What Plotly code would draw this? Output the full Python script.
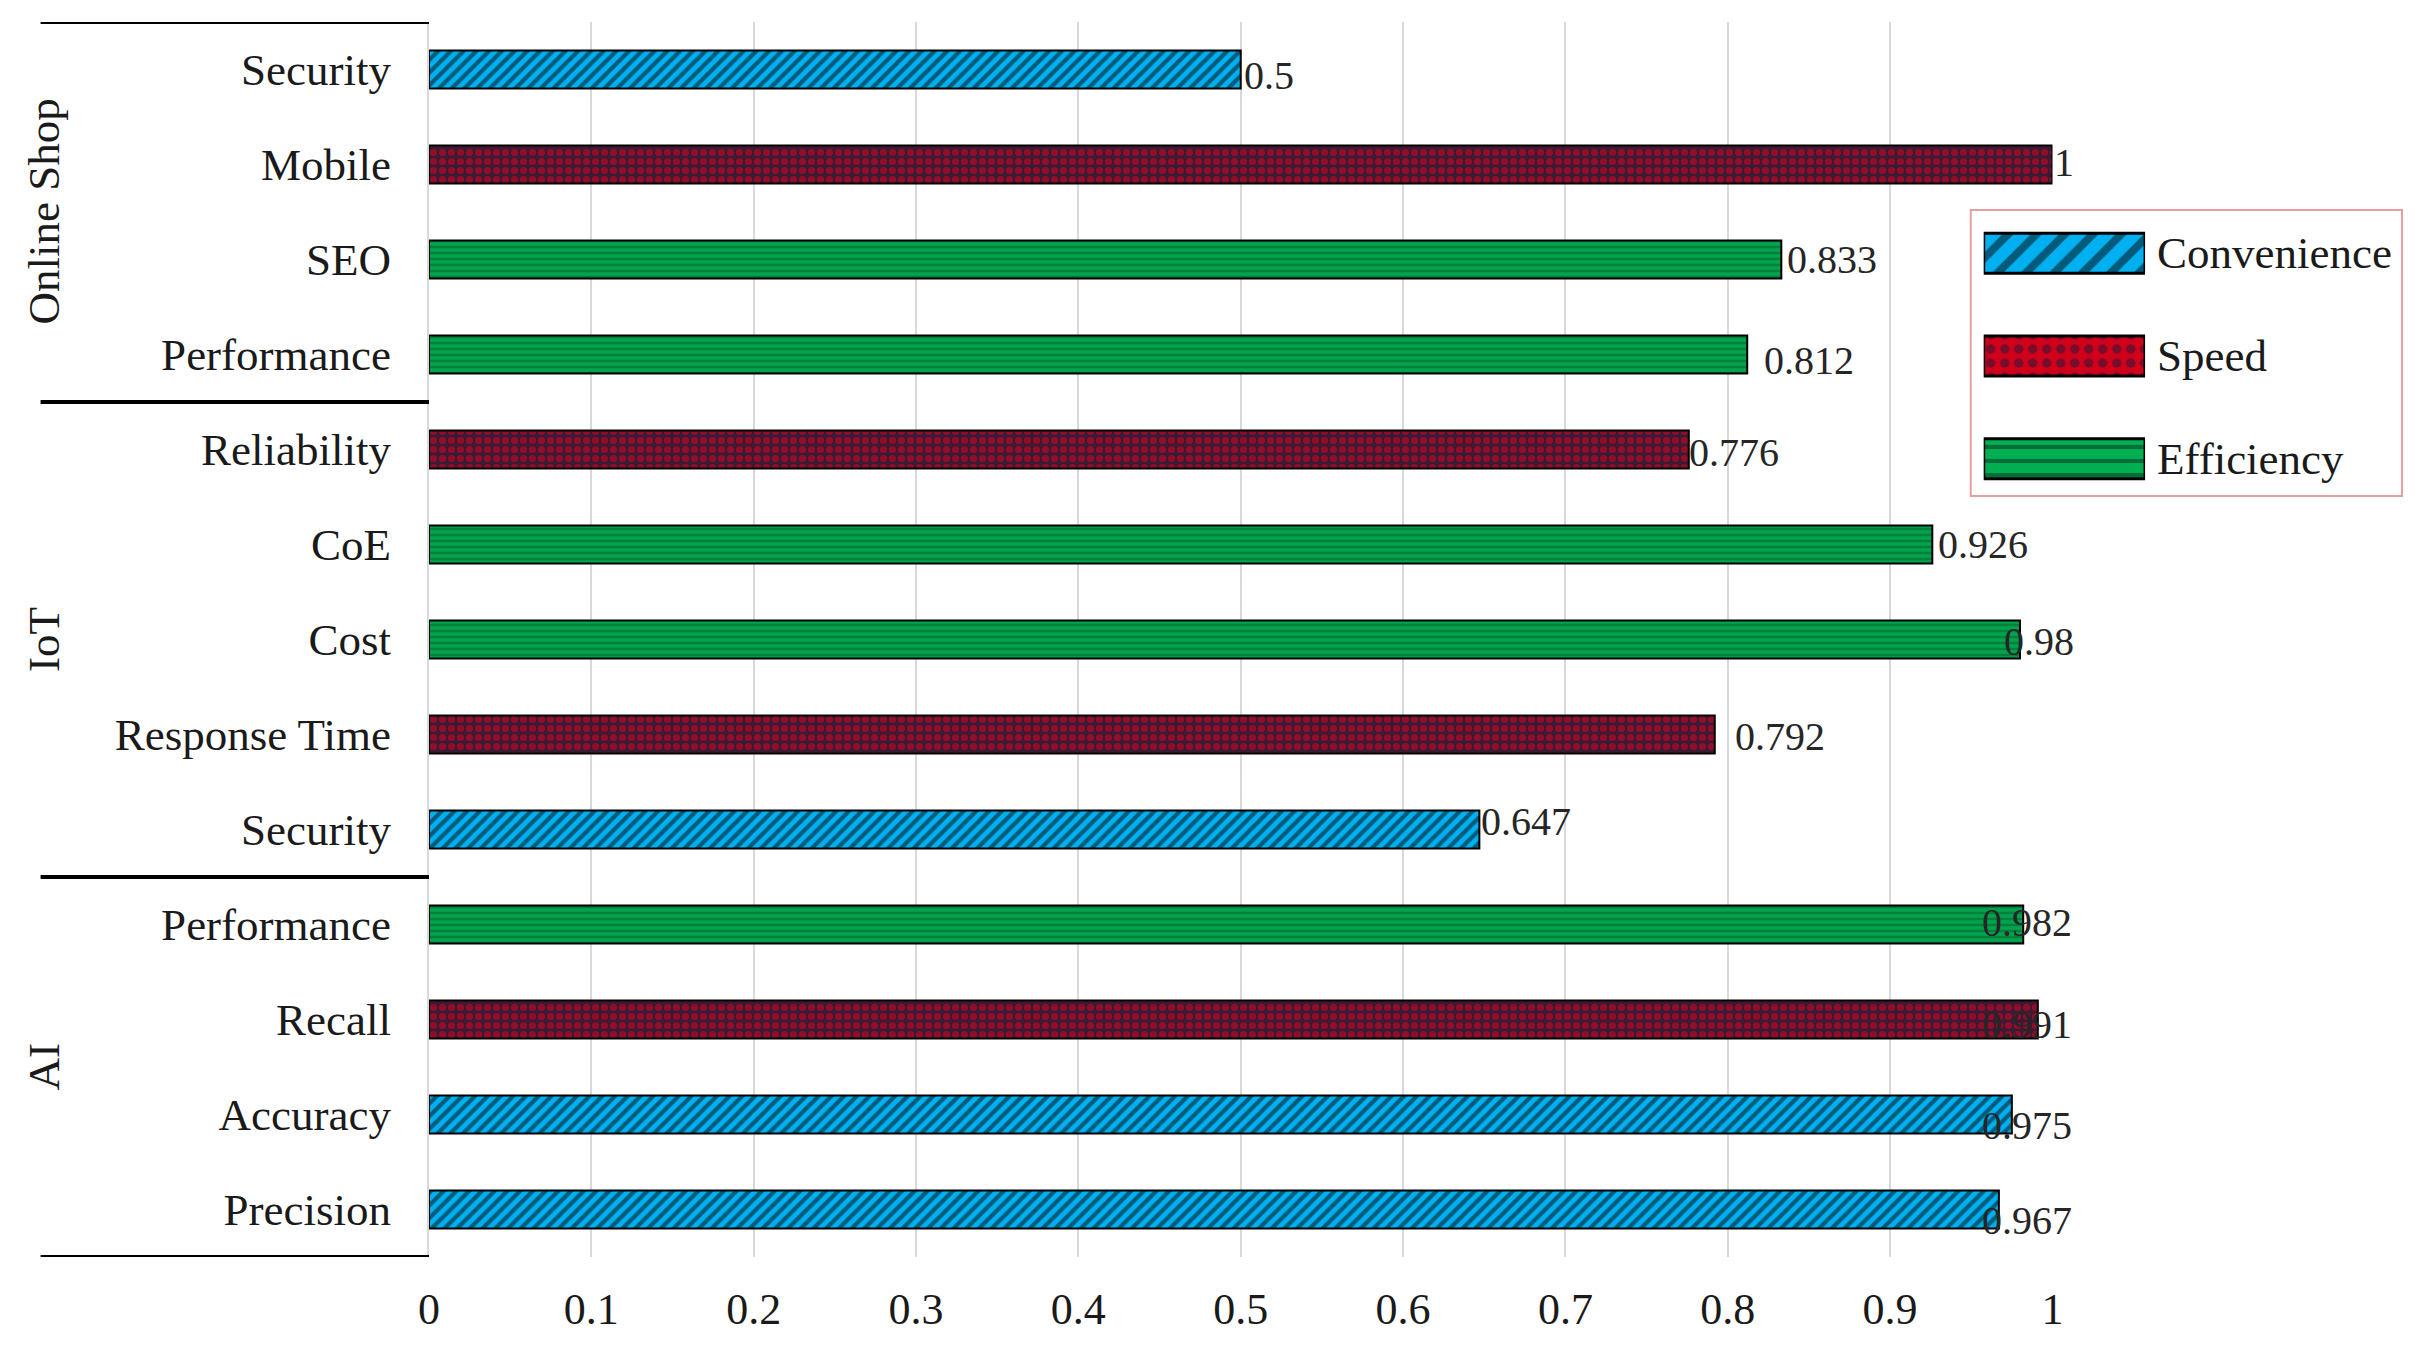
import plotly.graph_objects as go

# ---------------- data ----------------
groups = ["Online Shop", "IoT", "AI"]
group_sizes = [4, 5, 4]
categories = ["Security", "Mobile", "SEO", "Performance",
              "Reliability", "CoE", "Cost", "Response Time", "Security",
              "Performance", "Recall", "Accuracy", "Precision"]
values = [0.5, 1, 0.833, 0.812,
          0.776, 0.926, 0.98, 0.792, 0.647,
          0.982, 0.991, 0.975, 0.967]
value_labels = ["0.5", "1", "0.833", "0.812",
                "0.776", "0.926", "0.98", "0.792", "0.647",
                "0.982", "0.991", "0.975", "0.967"]
bar_series = ["Convenience", "Speed", "Efficiency", "Efficiency",
              "Speed", "Efficiency", "Efficiency", "Speed", "Convenience",
              "Efficiency", "Speed", "Convenience", "Convenience"]
series_names = ["Convenience", "Speed", "Efficiency"]
x_ticks = [0, 0.1, 0.2, 0.3, 0.4, 0.5, 0.6, 0.7, 0.8, 0.9, 1]
x_tick_labels = ["0", "0.1", "0.2", "0.3", "0.4", "0.5", "0.6", "0.7", "0.8", "0.9", "1"]

# ---------------- styles ----------------
FONT = "Liberation Serif"
TXT = "#1a1a1a"
bar_patterns = {
    "Convenience": dict(shape="/", fgcolor="#050505", bgcolor="#00b0f0", size=9, solidity=0.47),
    "Speed": dict(shape=".", fgcolor="#e8001c", bgcolor="#3a1a34", size=9, solidity=0.5),
    "Efficiency": dict(shape="-", fgcolor="#0b5a30", bgcolor="#00a44d", size=6, solidity=0.42),
}
legend_patterns = {
    "Convenience": dict(shape="/", fgcolor="#050505", bgcolor="#00b0f0", size=20, solidity=0.4),
    "Speed": dict(shape=".", fgcolor="#1e1a3a", bgcolor="#d0001a", size=14, solidity=0.35),
    "Efficiency": dict(shape="-", fgcolor="#0a2a20", bgcolor="#00b050", size=14, solidity=0.3),
}
# label nudges in pixels (style only)
label_dx = [1, 0, 4, 15, -2, 4, -18, 18, 0, -43, -58, -32, -19]
label_dy = [6, -2, 0, 6, 3, 0, 2, 2, -8, -2, 5, 11, 11]

W, H = 2422, 1350
OFF = 8                      # page offset of the figure
ML, MR, MT = 429 - OFF, 15, 22 - OFF
PLOT_BOTTOM = 1257 - OFF
MB = H - PLOT_BOTTOM
PW = W - ML - MR
PH = PLOT_BOTTOM - MT


def px_x(px):
    return (px - 429) / PW


def px_y(py):
    return (1257 - py) / PH


main_right = px_x(2059)

fig = go.Figure()

positions = list(range(len(categories)))
for s in series_names:
    idx = [i for i, b in enumerate(bar_series) if b == s]
    fig.add_trace(go.Bar(
        x=[values[i] for i in idx],
        y=[positions[i] for i in idx],
        orientation="h",
        width=0.4,
        name=s,
        showlegend=False,
        marker=dict(pattern=bar_patterns[s], line=dict(color="#000000", width=2)),
        hoverinfo="x+y",
    ))

# legend swatches drawn as a small subplot
for s in series_names:
    fig.add_trace(go.Bar(
        x=[1], y=[s], orientation="h", width=0.39,
        xaxis="x2", yaxis="y2", showlegend=False,
        marker=dict(pattern=legend_patterns[s], line=dict(color="#000000", width=3)),
        hoverinfo="skip",
    ))

annotations = []
for i, (v, t) in enumerate(zip(values, value_labels)):
    annotations.append(dict(
        x=v, y=positions[i], xref="x", yref="y", text=t, showarrow=False,
        xanchor="left", yanchor="middle", xshift=label_dx[i], yshift=-label_dy[i],
        font=dict(family=FONT, size=40, color="#262626"),
    ))

# group labels and separators
start = 0
shapes = []
shapes.append(dict(type="line", xref="paper", yref="y", x0=px_x(39), x1=0,
                   y0=-0.5, y1=-0.5, line=dict(color="#000000", width=4)))
for g, n in zip(groups, group_sizes):
    center = (positions[start] + positions[start + n - 1]) / 2
    annotations.append(dict(
        x=px_x(42), y=center, xref="paper", yref="y", text=g, textangle=-90,
        showarrow=False, xanchor="center", yanchor="middle",
        font=dict(family=FONT, size=45, color=TXT),
    ))
    end = positions[start + n - 1] + 0.5
    shapes.append(dict(type="line", xref="paper", yref="y", x0=px_x(39), x1=0,
                       y0=end, y1=end, line=dict(color="#000000", width=4)))
    start += n

# legend box and texts
shapes.append(dict(type="rect", xref="paper", yref="paper",
                   x0=px_x(1977), x1=px_x(2410),
                   y0=px_y(496), y1=px_y(210),
                   line=dict(color="#e4a0a0", width=2), fillcolor="rgba(0,0,0,0)", layer="above"))
for s in series_names:
    annotations.append(dict(
        x=px_x(2162), y=s, xref="paper", yref="y2", text=s, showarrow=False,
        xanchor="left", yanchor="middle", font=dict(family=FONT, size=45, color=TXT),
    ))

fig.update_layout(
    width=W, height=H,
    margin=dict(l=ML, r=MR, t=MT, b=MB),
    paper_bgcolor="white", plot_bgcolor="white",
    font=dict(family=FONT, color=TXT),
    bargap=0.6,
    xaxis=dict(domain=[0, main_right], range=[0, 1], tickmode="array",
               tickvals=x_ticks, ticktext=x_tick_labels,
               showgrid=True, gridcolor="#d9d9d9", gridwidth=2,
               zeroline=False, showline=False, ticks="",
               ticklabelstandoff=22,
               tickfont=dict(family=FONT, size=44, color=TXT)),
    yaxis=dict(range=[len(categories) - 0.5, -0.5], tickmode="array",
               tickvals=positions, ticktext=categories,
               showgrid=False, zeroline=False, showline=True,
               linecolor="#d9d9d9", linewidth=2, ticks="",
               ticklabelstandoff=27,
               tickfont=dict(family=FONT, size=45, color=TXT)),
    xaxis2=dict(domain=[px_x(1990), px_x(2152)], range=[0, 1],
                anchor="y2", visible=False, fixedrange=True),
    yaxis2=dict(domain=[px_y(510), px_y(202)],
                categoryorder="array", categoryarray=series_names,
                autorange="reversed", anchor="x2", visible=False, fixedrange=True),
    annotations=annotations,
    shapes=shapes,
    showlegend=False,
)

fig.write_html("out.html")
